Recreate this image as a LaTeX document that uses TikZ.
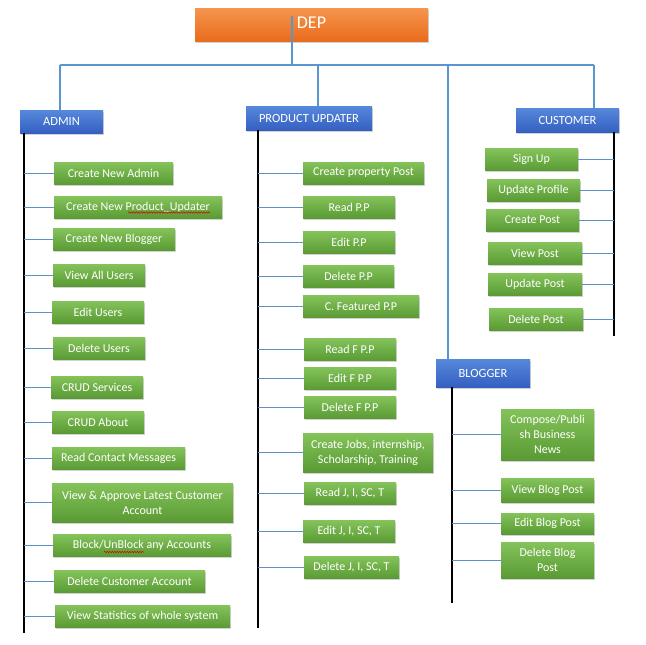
\documentclass[tikz,border=0pt]{standalone}
\usepackage{fontspec}
\setmainfont{Carlito}
\usetikzlibrary{positioning,shadows,decorations.pathmorphing}

\definecolor{depTop}{HTML}{F5954E}
\definecolor{depBot}{HTML}{EA6C1C}
\definecolor{roleTop}{HTML}{5688DB}
\definecolor{roleBot}{HTML}{3560C2}
\definecolor{taskTop}{HTML}{84C35A}
\definecolor{taskBot}{HTML}{5A9A34}
\definecolor{treeBlue}{HTML}{5B95CF}
\definecolor{linkBlue}{HTML}{5E8FC6}

\tikzset{
  box/.style={inner sep=0pt, text=white, align=center,
    drop shadow={shadow xshift=1pt, shadow yshift=-1.5pt, opacity=0.35}},
  topbox/.style={box, top color=depTop, bottom color=depBot, font=\fontsize{18}{20}\selectfont},
  rolebox/.style={box, top color=roleTop, bottom color=roleBot, font=\fontsize{12.5}{14}\selectfont},
  taskbox/.style={box, top color=taskTop, bottom color=taskBot, minimum height=22pt,
    font=\fontsize{12}{15}\selectfont},
  tree/.style={treeBlue, line width=1.4pt},
  link/.style={linkBlue, line width=0.8pt},
  spine/.style={black, line width=2pt},
  typo/.style={red!85!black, line width=0.5pt, decorate,
    decoration={snake, amplitude=0.7pt, segment length=2.5pt}}
}

\begin{document}
\begin{tikzpicture}[x=1pt,y=-1pt]
\fill[white] (0,0) rectangle (646,645);
\useasboundingbox (0,0) rectangle (646,645);

% top and roles
\node[topbox, minimum width=233pt, minimum height=33pt] (dep) at (311.5,24.5) {\raisebox{3pt}{DEP}};
\node[rolebox, minimum width=83pt, minimum height=23pt] (admin) at (61.5,121.5) {ADMIN};
\node[rolebox, minimum width=126pt, minimum height=24pt] (pu) at (309,118) {PRODUCT UPDATER};
\node[rolebox, minimum width=103pt, minimum height=24pt] (customer) at (567.5,120) {CUSTOMER};
\node[rolebox, minimum width=94pt, minimum height=28pt] (blogger) at (483,373) {BLOGGER};

\coordinate (stemtop) at (292,16);
\coordinate (hub) at (292,65);
\coordinate (ja) at (60,65);
\coordinate (jp) at (318,65);
\coordinate (jb) at (448,65);
\coordinate (jc) at (594,65);

\draw[tree] (stemtop) -- (hub);
\draw[tree] (ja) -- (jc);
\draw[tree] (ja) -- (ja |- admin.north);
\draw[tree] (jp) -- (jp |- pu.north);
\draw[tree] (jb) -- (jb |- blogger.north);
\draw[tree] (jc) -- (jc |- customer.north);

% admin tasks
\node[taskbox, minimum width=119pt] (a1) at (113.5,173.5) {Create New Admin};
\node[taskbox, minimum width=168pt] (a2) at (138,207.5) {Create New Product\_Updater};
\node[taskbox, minimum width=122pt] (a3) at (114,239.5) {Create New Blogger};
\node[taskbox, minimum width=92pt] (a4) at (99,275) {View All Users};
\node[taskbox, minimum width=92pt] (a5) at (98,312) {Edit Users};
\node[taskbox, minimum width=92pt] (a6) at (99,348.5) {Delete Users};
\node[taskbox, minimum width=92pt] (a7) at (97,387) {CRUD Services};
\node[taskbox, minimum width=92pt] (a8) at (98,422) {CRUD About};
\node[taskbox, minimum width=133pt] (a9) at (118.5,458.5) {Read Contact Messages};
\node[taskbox, minimum width=181pt, minimum height=39pt] (a10) at (142.5,502.5) {View \& Approve Latest Customer\\Account};
\node[taskbox, minimum width=178pt] (a11) at (142,545.5) {Block/UnBlock any Accounts};
\node[taskbox, minimum width=151pt] (a12) at (129.5,581.5) {Delete Customer Account};
\node[taskbox, minimum width=175pt] (a13) at (142.5,616.5) {View Statistics of whole system};

\coordinate (aspine) at (24,133);
\coordinate (aend) at (24,633);
\draw[spine] (aspine) -- (aend);
\foreach \i in {1,...,13} \draw[link] (a\i.west -| aspine) -- (a\i.west);

% product updater tasks
\node[taskbox, minimum width=121pt] (p1) at (363.5,173) {Create property Post};
\node[taskbox, minimum width=92pt] (p2) at (349,207) {Read P.P};
\node[taskbox, minimum width=92pt] (p3) at (349,242.5) {Edit P.P};
\node[taskbox, minimum width=91pt] (p4) at (348.5,276.5) {Delete P.P};
\node[taskbox, minimum width=116pt] (p5) at (361,306.5) {C. Featured P.P};
\node[taskbox, minimum width=92pt] (p6) at (350,349.5) {Read F P.P};
\node[taskbox, minimum width=92pt] (p7) at (350,378.5) {Edit F P.P};
\node[taskbox, minimum width=92pt] (p8) at (350,407.5) {Delete F P.P};
\node[taskbox, minimum width=130pt, minimum height=39pt] (p9) at (368,452.5) {Create Jobs, internship,\\Scholarship, Training};
\node[taskbox, minimum width=92pt] (p10) at (350,493.5) {Read J, I, SC, T};
\node[taskbox, minimum width=92pt] (p11) at (349,531.5) {Edit J, I, SC, T};
\node[taskbox, minimum width=95pt] (p12) at (351.5,567.5) {Delete J, I, SC, T};

\coordinate (pspine) at (258,130);
\coordinate (pend) at (258,628);
\draw[spine] (pspine) -- (pend);
\foreach \i in {1,...,12} \draw[link] (p\i.west -| pspine) -- (p\i.west);

% customer tasks
\node[taskbox, minimum width=93pt] (c1) at (531.5,159.5) {Sign Up};
\node[taskbox, minimum width=93pt] (c2) at (533.5,190) {Update Profile};
\node[taskbox, minimum width=93pt] (c3) at (532.5,220) {Create Post};
\node[taskbox, minimum width=94pt] (c4) at (535,253.5) {View Post};
\node[taskbox, minimum width=94pt] (c5) at (535,284.5) {Update Post};
\node[taskbox, minimum width=94pt] (c6) at (536,319) {Delete Post};

\coordinate (cspine) at (614,132);
\coordinate (cend) at (614,336);
\draw[spine] (cspine) -- (cend);
\foreach \i in {1,...,6} \draw[link] (c\i.east) -- (c\i.east -| cspine);

% blogger tasks
\node[taskbox, minimum width=93pt, minimum height=51pt] (b1) at (547.5,434.5) {Compose/Publi\\sh Business\\News};
\node[taskbox, minimum width=93pt, minimum height=24pt] (b2) at (547.5,490) {View Blog Post};
\node[taskbox, minimum width=93pt, minimum height=21pt] (b3) at (547.5,523.5) {Edit Blog Post};
\node[taskbox, minimum width=93pt, minimum height=36pt] (b4) at (547.5,560) {Delete Blog\\Post};

\coordinate (bspine) at (452,387);
\coordinate (bend) at (452,603);
\draw[spine] (bspine) -- (bend);
\foreach \i in {1,...,4} \draw[link] (b\i.west -| bspine) -- (b\i.west);

% spelling marks
\draw[typo] (128,212.5) -- (210,212.5);
\draw[typo] (104,552) -- (144,552);
\end{tikzpicture}
\end{document}
